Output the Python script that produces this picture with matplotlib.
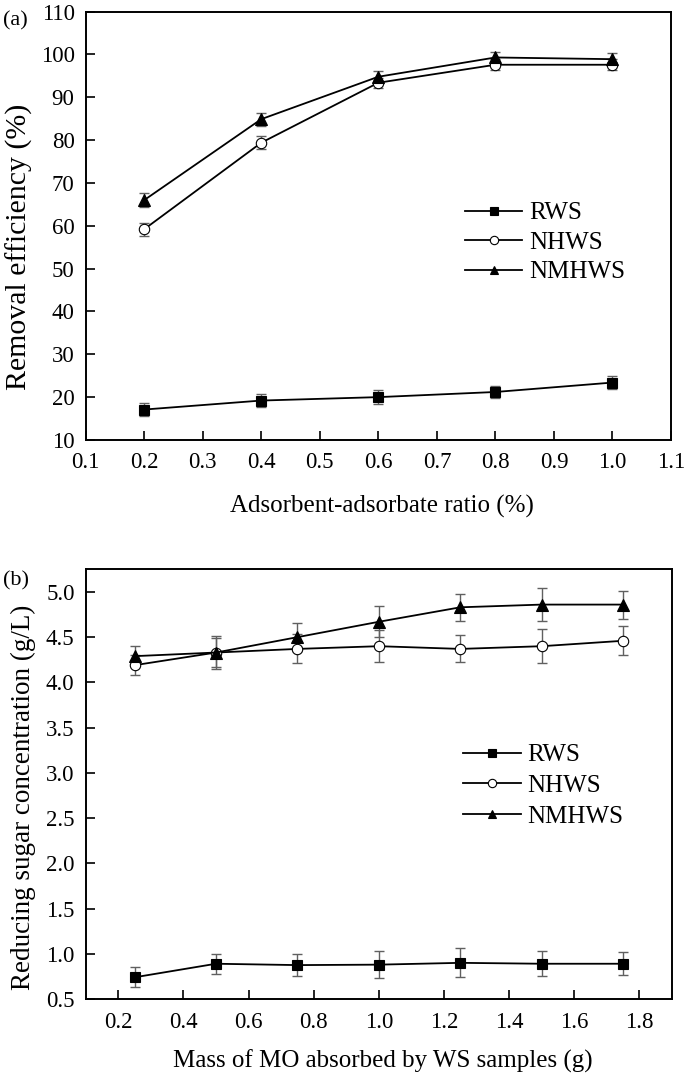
import matplotlib
matplotlib.use('Agg')
import matplotlib.pyplot as plt

plt.rcParams['font.family'] = ['Liberation Serif', 'DejaVu Serif']

# panel (a) data
ratio = [0.2, 0.4, 0.6, 0.8, 1.0]
rws_a = [17.1, 19.2, 20.0, 21.2, 23.4]
nhws_a = [59.2, 79.4, 93.4, 97.6, 97.6]
nmhws_a = [66.0, 84.9, 94.8, 99.3, 98.9]
rws_a_err = [1.5, 1.5, 1.6, 1.5, 1.6]
nhws_a_err = [1.5, 1.5, 1.2, 1.3, 1.3]
nmhws_a_err = [1.6, 1.5, 1.3, 1.3, 1.4]

# panel (b) data
mass = [0.25, 0.5, 0.75, 1.0, 1.25, 1.5, 1.75]
rws_b = [0.74, 0.89, 0.875, 0.88, 0.90, 0.89, 0.89]
nhws_b = [4.19, 4.33, 4.37, 4.40, 4.37, 4.40, 4.46]
nmhws_b = [4.29, 4.33, 4.50, 4.67, 4.83, 4.86, 4.86]
rws_b_err = [0.11, 0.11, 0.125, 0.15, 0.16, 0.14, 0.125]
nhws_b_err = [0.11, 0.16, 0.16, 0.18, 0.15, 0.19, 0.16]
nmhws_b_err = [0.11, 0.18, 0.155, 0.17, 0.15, 0.185, 0.155]

labels = ['RWS', 'NHWS', 'NMHWS']
markers = ['s', 'o', '^']
sizes = [7, 7.5, 8]
facecolors = ['black', 'white', 'black']

fig = plt.figure(figsize=(6.85, 10.77), dpi=100)
ax1 = fig.add_axes([0.1251, 0.5915, 0.8545, 0.3977])
ax2 = fig.add_axes([0.1251, 0.0724, 0.856, 0.399])


def draw(ax, x, series, errs):
    for y, e, lab, m, ms, fc in zip(series, errs, labels, markers, sizes, facecolors):
        ax.errorbar(x, y, yerr=e, fmt='none', ecolor='#606060',
                    elinewidth=1.0, capsize=3.5, capthick=1.0, zorder=2)
        ax.plot(x, y, color='black', lw=1.3, marker=m, ms=ms,
                mfc=fc, mec='black', mew=0.8, label=lab, zorder=3)
    for s in ax.spines.values():
        s.set_linewidth(1.4)
    ax.tick_params(direction='in', length=6.5, width=1.2, labelsize=16.5,
                   top=False, right=False)
    ax.tick_params(axis='x', pad=9)
    ax.tick_params(axis='y', pad=8)


draw(ax1, ratio, [rws_a, nhws_a, nmhws_a], [rws_a_err, nhws_a_err, nmhws_a_err])
ax1.set_xlim(0.1, 1.1)
ax1.set_ylim(10, 110)
ax1.set_xticks([0.1, 0.2, 0.3, 0.4, 0.5, 0.6, 0.7, 0.8, 0.9, 1.0, 1.1])
ax1.set_yticks(range(10, 111, 10))
ax1.set_xlabel('Adsorbent-adsorbate ratio (%)', fontsize=18)
ax1.xaxis.set_label_coords(0.506, -0.128)
ax1.set_ylabel('Removal efficiency (%)', fontsize=21.5)
ax1.yaxis.set_label_coords(-0.09, 0.45)
ax1.legend(loc='upper left', bbox_to_anchor=(0.648, 0.556), frameon=False,
           fontsize=18, handlelength=2.3, handletextpad=0.25, labelspacing=0.28,
           borderaxespad=0, borderpad=0, markerscale=0.8)

draw(ax2, mass, [rws_b, nhws_b, nmhws_b], [rws_b_err, nhws_b_err, nmhws_b_err])
ax2.set_xlim(0.1, 1.9)
ax2.set_ylim(0.5, 5.25)
ax2.set_xticks([0.2, 0.4, 0.6, 0.8, 1.0, 1.2, 1.4, 1.6, 1.8])
ax2.set_yticks([0.5, 1.0, 1.5, 2.0, 2.5, 3.0, 3.5, 4.0, 4.5, 5.0])
ax2.set_xlabel('Mass of MO absorbed by WS samples (g)', fontsize=18)
ax2.xaxis.set_label_coords(0.507, -0.118)
ax2.set_ylabel('Reducing sugar concentration (g/L)', fontsize=19.5)
ax2.yaxis.set_label_coords(-0.085, 0.47)
ax2.legend(loc='upper left', bbox_to_anchor=(0.644, 0.594), frameon=False,
           fontsize=18, handlelength=2.3, handletextpad=0.25, labelspacing=0.33,
           borderaxespad=0, borderpad=0, markerscale=0.8)

fig.text(0.004, 0.981, '(a)', fontsize=16, va='center')
fig.text(0.004, 0.461, '(b)', fontsize=16, va='center')

fig.savefig('out.png', dpi=100)
